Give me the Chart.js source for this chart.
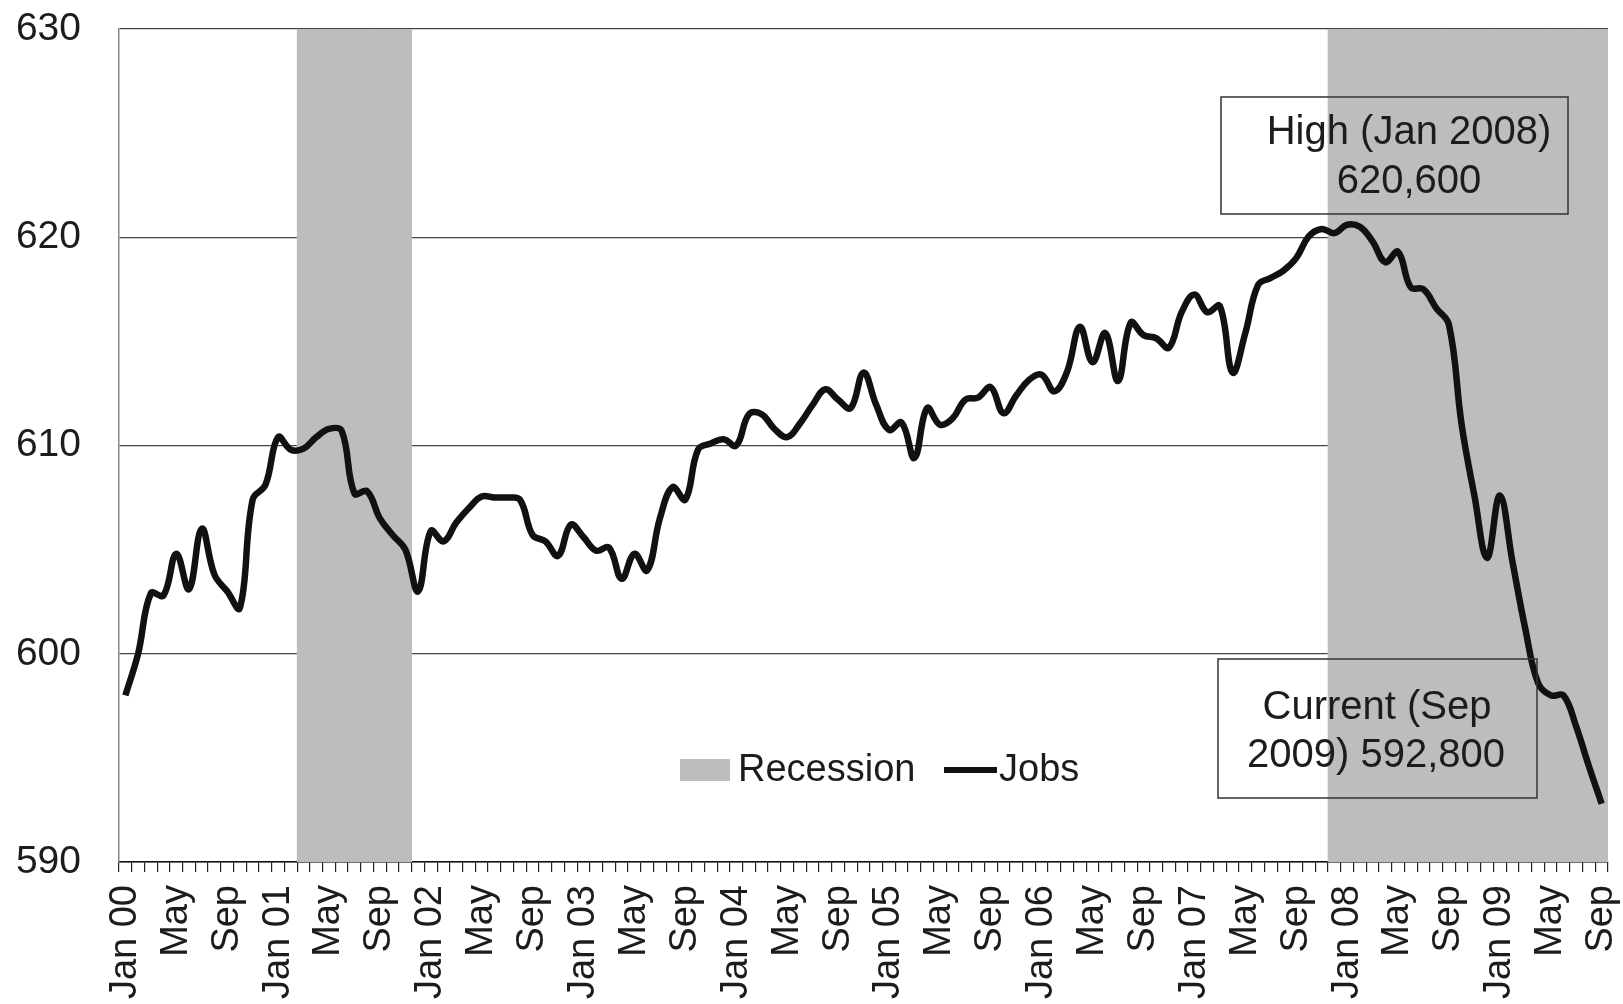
<!DOCTYPE html>
<html>
<head>
<meta charset="utf-8">
<script src="https://cdn.jsdelivr.net/npm/chart.js@4.4.1/dist/chart.umd.min.js"></script>
<style>
  html, body { margin: 0; padding: 0; background: #fff; }
</style>
</head>
<body>
<canvas id="jobsChart" width="1623" height="1004"></canvas>
<script>
// monthly categories, Jan 2000 .. Sep 2009
const monthNames = ['Jan', 'Feb', 'Mar', 'Apr', 'May', 'Jun', 'Jul', 'Aug', 'Sep', 'Oct', 'Nov', 'Dec'];
const firstYear = 2000;
const monthCount = 117;
const labelEvery = 4;

// jobs, thousands
const jobs = [
  598.0, 600.0, 602.9, 602.8, 604.8, 603.1, 606.0, 603.8, 603.0, 602.2, 607.4, 608.1,
  610.4, 609.8, 609.85, 610.4, 610.8, 610.7, 607.7, 607.8, 606.5, 605.7, 605.0, 603.0,
  605.9, 605.4, 606.3, 607.0, 607.55, 607.5, 607.5, 607.4, 605.7, 605.4, 604.7, 606.2,
  605.6, 604.95, 605.1, 603.6, 604.8, 604.0, 606.5, 608.0, 607.4, 609.8, 610.1, 610.3,
  610.0, 611.5, 611.5, 610.8, 610.4, 611.05, 611.95, 612.7, 612.2, 611.8, 613.5, 611.95,
  610.75, 611.1, 609.4, 611.8, 611.0, 611.3, 612.2, 612.3, 612.8, 611.55, 612.4, 613.15,
  613.4, 612.6, 613.55, 615.7, 614.0, 615.4, 613.1, 615.9, 615.3, 615.15, 614.7, 616.4,
  617.25, 616.4, 616.7, 613.5, 615.4, 617.7, 618.05, 618.4, 619.0, 620.05, 620.4, 620.2,
  620.6, 620.5, 619.8, 618.8, 619.3, 617.6, 617.5, 616.6, 615.8, 611.0, 607.6, 604.6,
  607.6, 604.4, 601.2, 598.6, 598.0, 598.0, 596.5, 594.6, 592.8
];

// recession periods (first month, last month)
const recessions = [['Mar 01', 'Nov 01'], ['Dec 07', 'Sep 09']];

const yMin = 590;
const yMax = 630;
const yStep = 10;

const annotations = [
  { lines: ['High (Jan 2008)', '620,600'] },
  { lines: ['Current (Sep', '2009) 592,800'] }
];

const months = [];
for (let i = 0; i < monthCount; i++) {
  const yy = String((firstYear + Math.floor(i / 12)) % 100).padStart(2, '0');
  months.push(monthNames[i % 12] + ' ' + yy);
}

const recessionBars = months.map((m, i) => {
  const inside = recessions.some(([a, b]) => i >= months.indexOf(a) && i <= months.indexOf(b));
  return inside ? [yMin, yMax] : null;
});

const FONT = '"Liberation Sans", Arial, sans-serif';
const TEXT = '#1c1c1c';
const SHADE = '#bdbdbd';

const overlay = {
  id: 'overlay',
  afterDraw(chart) {
    const ctx = chart.ctx;
    ctx.save();
    // legend
    ctx.fillStyle = SHADE;
    ctx.fillRect(680, 759, 50, 22);
    ctx.fillStyle = TEXT;
    ctx.font = '38px ' + FONT;
    ctx.textBaseline = 'middle';
    ctx.textAlign = 'left';
    ctx.fillText('Recession', 738, 771);
    ctx.strokeStyle = '#111';
    ctx.lineWidth = 6;
    ctx.beginPath();
    ctx.moveTo(944, 770);
    ctx.lineTo(997, 770);
    ctx.stroke();
    ctx.fillText('Jobs', 999, 771);

    // annotation boxes
    ctx.strokeStyle = '#333';
    ctx.lineWidth = 1.5;
    ctx.font = '40px ' + FONT;
    ctx.textAlign = 'center';
    ctx.strokeRect(1221, 97, 347, 117);
    ctx.fillText(annotations[0].lines[0], 1409, 133);
    ctx.fillText(annotations[0].lines[1], 1409, 182);
    ctx.strokeRect(1218, 659, 319, 139);
    ctx.fillText(annotations[1].lines[0], 1377, 708);
    ctx.fillText(annotations[1].lines[1], 1376, 756);
    ctx.restore();
  }
};

new Chart(document.getElementById('jobsChart').getContext('2d'), {
  type: 'bar',
  data: {
    labels: months,
    datasets: [
      {
        type: 'line',
        label: 'Jobs',
        data: jobs,
        borderColor: '#111',
        borderWidth: 6.5,
        pointRadius: 0,
        tension: 0.4,
        fill: false,
        order: 0
      },
      {
        type: 'bar',
        label: 'Recession',
        data: recessionBars,
        backgroundColor: SHADE,
        borderWidth: 0,
        barPercentage: 1,
        categoryPercentage: 1,
        order: 1
      }
    ]
  },
  options: {
    responsive: false,
    animation: false,
    devicePixelRatio: 1,
    layout: { padding: { left: 0, right: 15, top: 29, bottom: 0 } },
    plugins: {
      legend: { display: false },
      tooltip: { enabled: false }
    },
    scales: {
      x: {
        offset: true,
        grid: {
          offset: true,
          drawOnChartArea: false,
          drawTicks: true,
          tickLength: 10,
          color: '#222',
          lineWidth: 1.2
        },
        border: { color: '#111', width: 1.5 },
        ticks: {
          autoSkip: false,
          minRotation: 90,
          maxRotation: 90,
          padding: 13,
          color: TEXT,
          font: { family: FONT, size: 38 },
          callback: function (value, index) {
            if (index % labelEvery !== 0) return '';
            const m = months[index];
            return m.startsWith('Jan') ? m : m.slice(0, 3);
          }
        },
        afterFit(scale) {
          scale.height = 142;
          scale.paddingLeft = 0;
          scale.paddingRight = 0;
        }
      },
      y: {
        min: yMin,
        max: yMax,
        grid: {
          drawTicks: false,
          color: '#444',
          lineWidth: 1.3
        },
        border: { color: '#888', width: 1.5 },
        ticks: {
          stepSize: yStep,
          padding: 38,
          color: TEXT,
          font: { family: FONT, size: 39 }
        },
        afterFit(scale) {
          scale.width = 119;
          scale.paddingTop = 0;
          scale.paddingBottom = 0;
        }
      }
    }
  },
  plugins: [overlay]
});
</script>
</body>
</html>
